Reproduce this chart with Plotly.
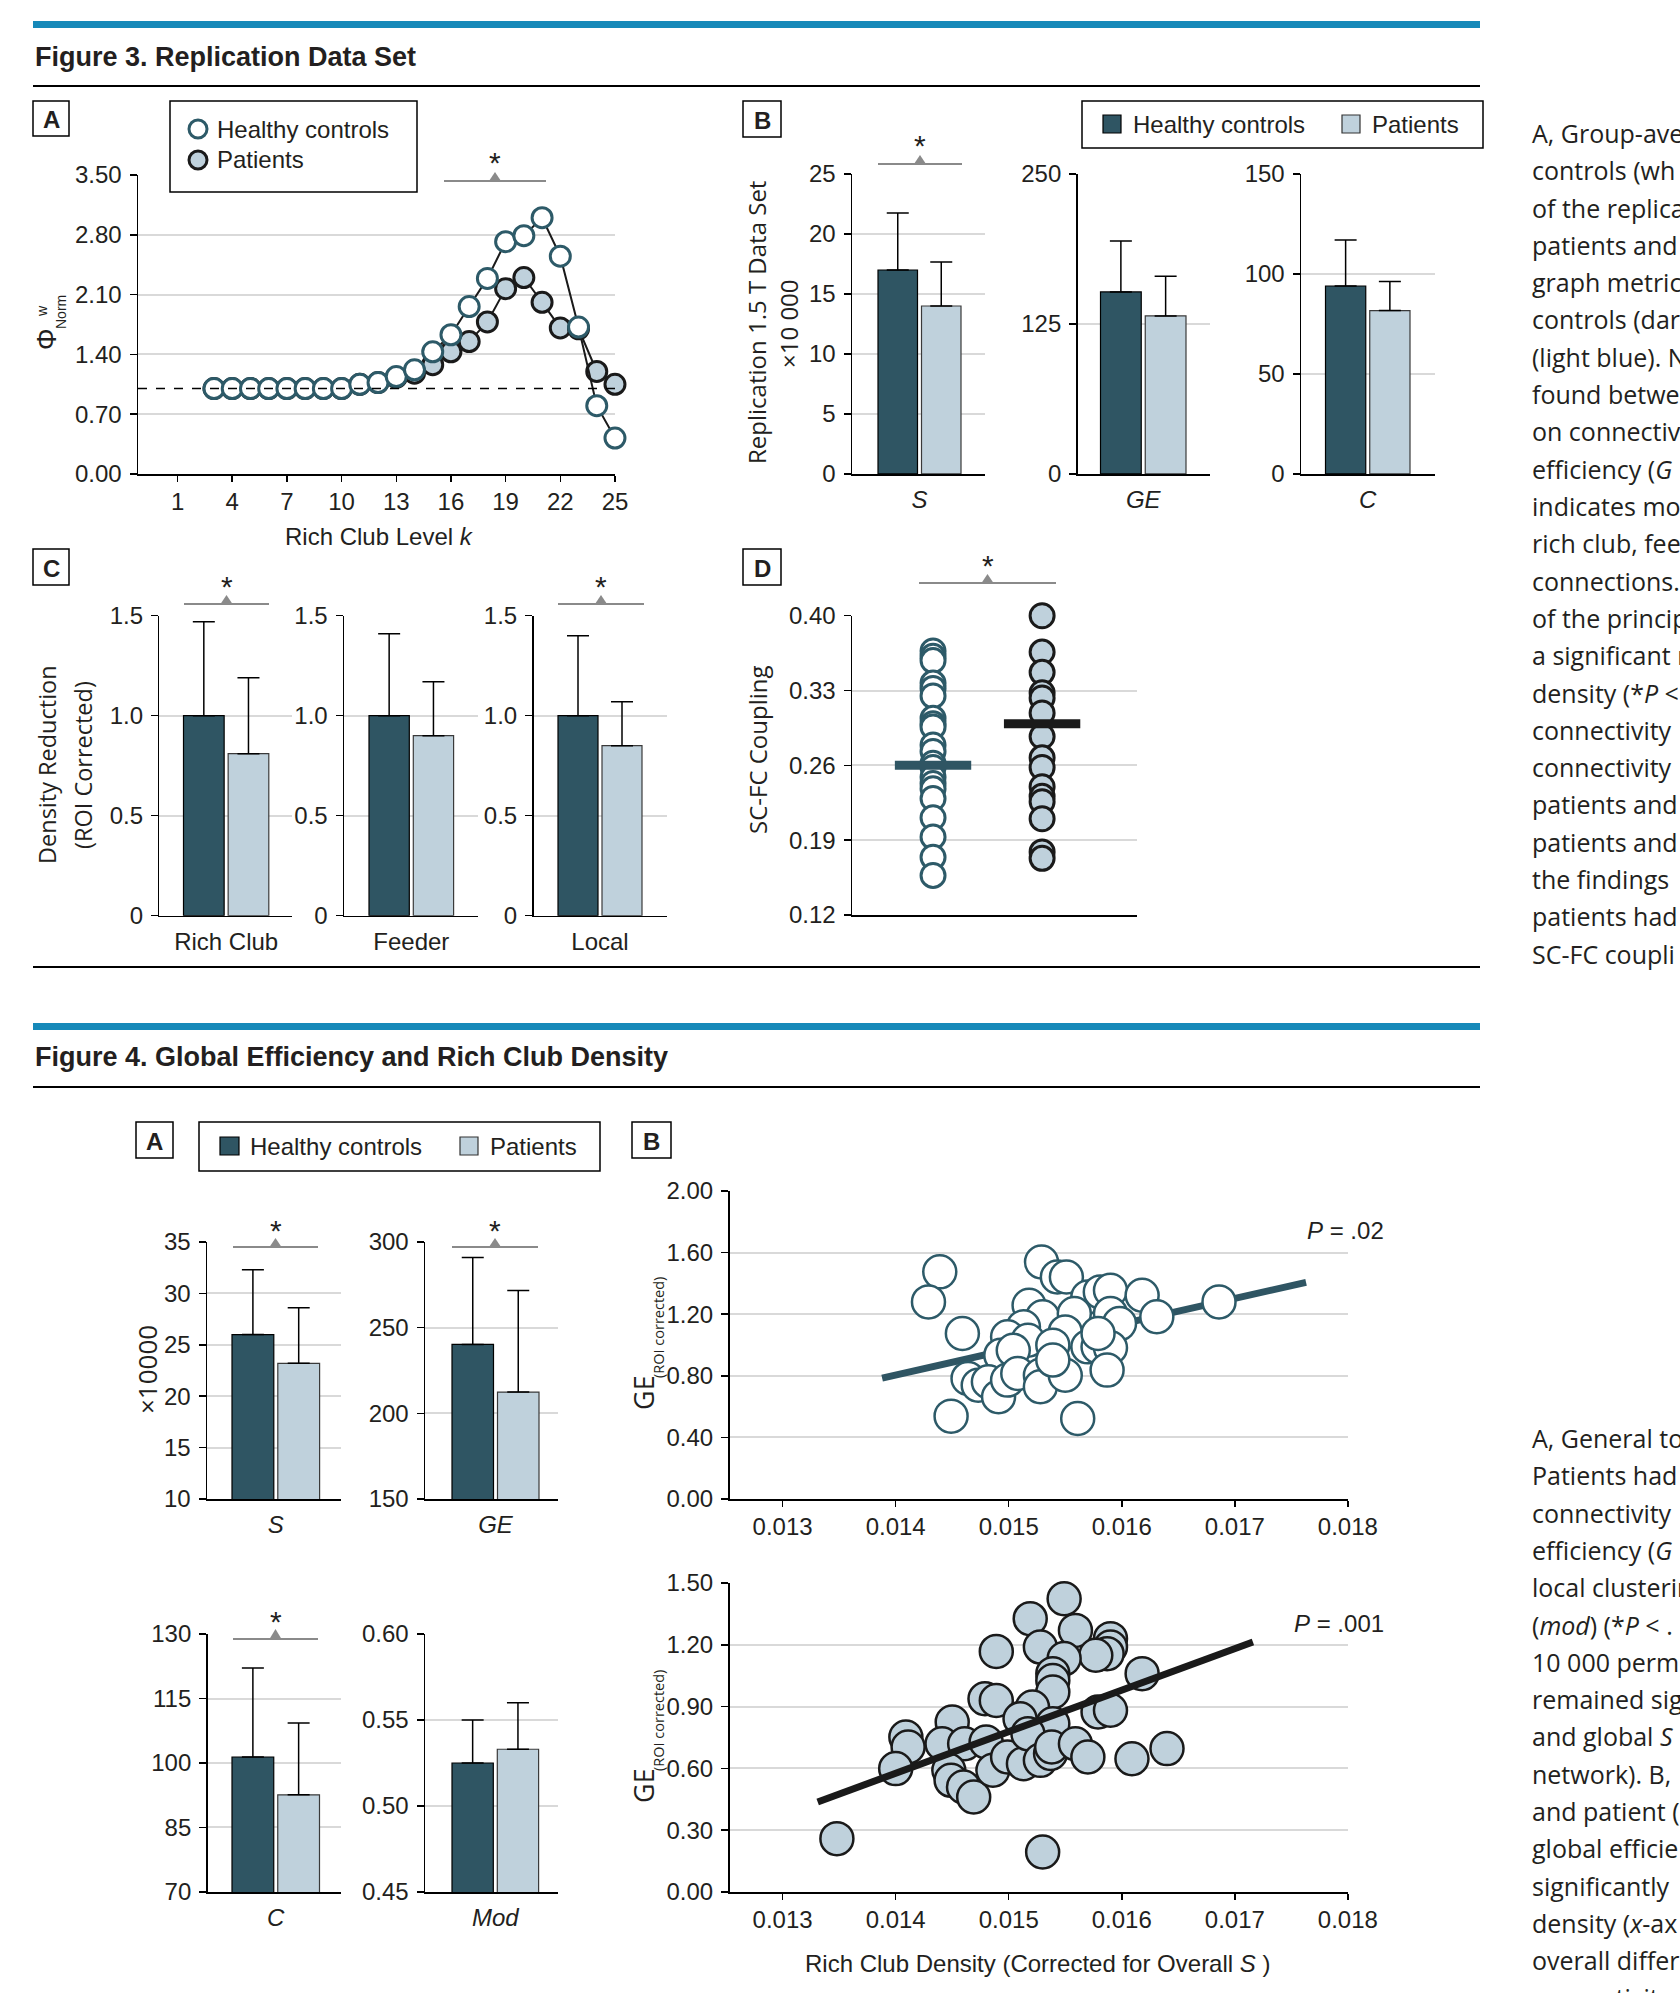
import plotly.graph_objects as go

W, H = 1680, 1993

# ---------------- data ----------------
k_levels = list(range(3, 26))
phi_controls = [1.00, 1.00, 1.00, 1.00, 1.00, 1.00, 1.00, 1.00, 1.05, 1.07, 1.14, 1.22,
                1.43, 1.63, 1.96, 2.29, 2.72, 2.79, 3.00, 2.55, 1.72, 0.80, 0.42]
phi_patients = [1.00, 1.00, 1.00, 1.00, 1.00, 1.00, 1.00, 1.00, 1.05, 1.07, 1.13, 1.18,
                1.28, 1.43, 1.55, 1.78, 2.17, 2.30, 2.01, 1.71, 1.70, 1.20, 1.05]
k_ticks = [1, 4, 7, 10, 13, 16, 19, 22, 25]
phi_ticks = [0.00, 0.70, 1.40, 2.10, 2.80, 3.50]
phi_reference = 1.0

rep_metrics = ["S", "GE", "C"]
rep_controls = [17.0, 151.7, 94.0]
rep_controls_err = [4.75, 42.5, 23.0]
rep_patients = [14.0, 131.7, 81.7]
rep_patients_err = [3.67, 33.0, 14.6]
rep_ticks = [[0, 5, 10, 15, 20, 25], [0, 125, 250], [0, 50, 100, 150]]

density_classes = ["Rich Club", "Feeder", "Local"]
density_controls = [1.00, 1.00, 1.00]
density_controls_err = [0.47, 0.41, 0.40]
density_patients = [0.81, 0.90, 0.85]
density_patients_err = [0.38, 0.27, 0.22]
density_ticks = [0, 0.5, 1.0, 1.5]
density_ticklabels = ["0", "0.5", "1.0", "1.5"]

sc_fc_controls = [0.367, 0.362, 0.358, 0.337, 0.332, 0.325, 0.304, 0.299, 0.296, 0.279,
                  0.273, 0.262, 0.258, 0.249, 0.243, 0.238, 0.229, 0.211, 0.193, 0.174, 0.157]
sc_fc_patients = [0.400, 0.366, 0.347, 0.328, 0.323, 0.309, 0.287, 0.267, 0.258, 0.240,
                  0.231, 0.226, 0.210, 0.179, 0.173]
sc_fc_means = [0.260, 0.299]
sc_fc_ticks = [0.12, 0.19, 0.26, 0.33, 0.40]

f4_metrics = ["S", "GE", "C", "Mod"]
f4_controls = [26.0, 240.2, 101.4, 0.525]
f4_controls_err = [6.3, 50.8, 20.7, 0.025]
f4_patients = [23.2, 212.4, 92.6, 0.533]
f4_patients_err = [5.4, 59.3, 16.7, 0.027]
f4_ticks = [[10, 15, 20, 25, 30, 35], [150, 200, 250, 300], [70, 85, 100, 115, 130],
            [0.45, 0.50, 0.55, 0.60]]

rc_density_controls = [0.01439, 0.01429, 0.01459, 0.01449, 0.01529, 0.01543, 0.01551, 0.01570,
                       0.01581, 0.01590, 0.01618, 0.01631, 0.01686, 0.01518, 0.01530, 0.01558,
                       0.01590, 0.01598, 0.01513, 0.01550, 0.01499, 0.01517, 0.01539, 0.01570,
                       0.01579, 0.01590, 0.01493, 0.01504, 0.01464, 0.01473, 0.01482, 0.01491,
                       0.01499, 0.01508, 0.01528, 0.01528, 0.01550, 0.01561, 0.01587, 0.01539,
                       0.01579]
ge_controls = [1.475, 1.280, 1.075, 0.538, 1.539, 1.442, 1.442, 1.312, 1.345, 1.356, 1.323,
               1.183, 1.280, 1.258, 1.183, 1.204, 1.204, 1.139, 1.118, 1.085, 1.053, 1.031,
               0.999, 0.988, 0.988, 0.982, 0.934, 0.966, 0.783, 0.739, 0.761, 0.664, 0.772,
               0.815, 0.804, 0.729, 0.804, 0.523, 0.837, 0.902, 1.075]
fit_controls_x = [0.01388, 0.01763]
fit_controls_y = [0.785, 1.407]

rc_density_patients = [0.01348, 0.01530, 0.01549, 0.01519, 0.01559, 0.01590, 0.01590, 0.01587,
                       0.01577, 0.01528, 0.01489, 0.01549, 0.01539, 0.01539, 0.01539, 0.01618,
                       0.01479, 0.01489, 0.01521, 0.01510, 0.01539, 0.01579, 0.01590, 0.01409,
                       0.01411, 0.01400, 0.01450, 0.01441, 0.01461, 0.01480, 0.01447, 0.01449,
                       0.01460, 0.01469, 0.01486, 0.01499, 0.01513, 0.01517, 0.01528, 0.01537,
                       0.01538, 0.01559, 0.01570, 0.01609, 0.01640]
ge_patients = [0.259, 0.194, 1.424, 1.327, 1.270, 1.230, 1.189, 1.157, 1.149, 1.189, 1.168,
               1.133, 1.060, 1.027, 0.971, 1.060, 0.938, 0.930, 0.898, 0.841, 0.817, 0.874,
               0.882, 0.752, 0.704, 0.599, 0.825, 0.720, 0.720, 0.728, 0.591, 0.542, 0.510,
               0.461, 0.591, 0.655, 0.623, 0.768, 0.639, 0.672, 0.704, 0.720, 0.655, 0.647,
               0.696]
fit_patients_x = [0.01331, 0.01716]
fit_patients_y = [0.437, 1.214]
rc_ticks = [0.013, 0.014, 0.015, 0.016, 0.017, 0.018]
ge_ticks_top = [0.0, 0.4, 0.8, 1.2, 1.6, 2.0]
ge_ticks_bottom = [0.0, 0.3, 0.6, 0.9, 1.2, 1.5]

caption3 = ["A, Group-ave", "controls (wh", "of the replica", "patients and", "graph metric",
            "controls (dar", "(light blue). N", "found betwe", "on connectiv",
            "efficiency (<i>G</i>", "indicates mo", "rich club, fee", "connections.",
            "of the princip", "a significant r", "density (*<i>P</i> <", "connectivity",
            "connectivity", "patients and", "patients and", "the findings", "patients had",
            "SC-FC coupli"]
caption4 = ["A, General to", "Patients had", "connectivity", "efficiency (<i>G</i>",
            "local clusterin", "(<i>mod</i>) (*<i>P</i> < .", "10 000 perm", "remained sig",
            "and global <i>S</i>", "network). B,", "and patient (", "global efficie",
            "significantly", "density (<i>x</i>-ax", "overall differ", "connectivity"]

# ---------------- style ----------------
DARK = "#2f5563"
LIGHT = "#bfd1dc"
TEAL = "#2d5a68"
GRID = "#d9d9d9"
TXT = "#231f20"
BLUE = "#1689b9"
SIG = "#8a8a8a"
FONT = "Liberation Sans, Arial, sans-serif"
HFONT = "Open Sans, Liberation Sans, sans-serif"

fig = go.Figure()
axes = {}
shapes = []
annos = []


def X(p):
    return p / W


def Y(p):
    return 1 - p / H


def tfont(size=24):
    return dict(family=FONT, size=size, color=TXT)


def text(x, y, s, size=23, family=FONT, xanchor="center", yanchor="middle", angle=0, color=TXT):
    annos.append(dict(x=X(x), y=Y(y), xref="paper", yref="paper", text=s, showarrow=False,
                      xanchor=xanchor, yanchor=yanchor, textangle=angle,
                      font=dict(family=family, size=size, color=color)))


def rect(x0, y0, x1, y1, fill="rgba(0,0,0,0)", edge="black", width=1.5):
    shapes.append(dict(type="rect", xref="paper", yref="paper", x0=X(x0), x1=X(x1), y0=Y(y1),
                       y1=Y(y0), fillcolor=fill, line=dict(color=edge, width=width), layer="above"))


def hline(x0, x1, y, color="black", width=2):
    shapes.append(dict(type="line", xref="paper", yref="paper", x0=X(x0), x1=X(x1), y0=Y(y), y1=Y(y),
                       line=dict(color=color, width=width), layer="above"))


def circle(cx, cy, r, fill, edge, width):
    shapes.append(dict(type="circle", xref="paper", yref="paper", x0=X(cx - r), x1=X(cx + r),
                       y0=Y(cy + r), y1=Y(cy - r), fillcolor=fill, line=dict(color=edge, width=width),
                       layer="above"))


def sig(x0, x1, yline, yapex, ystar):
    hline(x0, x1, yline, SIG, 2)
    xm = (x0 + x1) / 2
    shapes.append(dict(type="path", xref="paper", yref="paper",
                       path=f"M {X(xm - 6)} {Y(yline)} L {X(xm + 6)} {Y(yline)} L {X(xm)} {Y(yapex)} Z",
                       fillcolor=SIG, line=dict(color=SIG, width=0), layer="above"))
    text(xm, ystar + 4, "*", 30)


def label_box(x0, y0, x1, y1, letter):
    rect(x0, y0, x1, y1)
    text((x0 + x1) / 2, (y0 + y1) / 2 + 1, f"<b>{letter}</b>", 24)


def make_axes(i, x0, x1, ytop, ybot, xrange, yrange, ytickvals, yticktext,
              xtickvals=None, xticktext=None, xticks="", xstandoff=8, xfont=None):
    sfx = "" if i == 1 else str(i)
    span = yrange[1] - yrange[0]
    axes["xaxis" + sfx] = dict(
        domain=[X(x0), X(x1)], range=xrange, anchor="y" + sfx, showgrid=False, zeroline=False,
        automargin=False,
        showline=True, linecolor="black", linewidth=1.5, ticks=xticks, ticklen=6, tickwidth=1.5,
        tickcolor="black", tickmode="array", tickvals=xtickvals or [], ticktext=xticktext or [],
        showticklabels=xtickvals is not None, tickfont=xfont or tfont(), ticklabelstandoff=xstandoff,
        fixedrange=True)
    axes["yaxis" + sfx] = dict(
        domain=[Y(ybot), Y(ytop)], range=[yrange[0] - span * 1e-4, yrange[1] + span * 1e-4],
        anchor="x" + sfx, showgrid=True, gridcolor=GRID, gridwidth=2, zeroline=False, showline=True,
        automargin=False,
        linecolor="black", linewidth=1.5, ticks="outside", ticklen=7, tickwidth=1.5,
        tickcolor="black", tickmode="array", tickvals=ytickvals, ticktext=yticktext,
        tickfont=tfont(), ticklabelstandoff=3, fixedrange=True)
    return "x" + sfx, "y" + sfx


def bar_panel(i, axis_x, grid_end, ytop, ybot, yticks, ylabels, bar_left, bar_right,
              label, italic, c, ce, p, pe):
    gap = 4.0
    w = (bar_right - bar_left - gap) / 2
    unit = w + gap
    c0 = bar_left + w / 2
    xr = [-(c0 - axis_x) / unit, (grid_end - c0) / unit]
    txt = f"<i>{label}</i>" if italic else label
    xa, ya = make_axes(i, axis_x, grid_end, ytop, ybot, xr, [yticks[0], yticks[-1]], yticks, ylabels,
                       xtickvals=[0.5], xticktext=[txt], xticks="", xstandoff=4, xfont=tfont(24))
    for xpos, val, err, color, edge in ((0, c, ce, DARK, "black"), (1, p, pe, LIGHT, "#3a3a3a")):
        fig.add_trace(go.Bar(
            x=[xpos], y=[val], width=[w / unit],
            marker=dict(color=color, line=dict(color=edge, width=1.2)),
            error_y=dict(type="data", symmetric=False, array=[err], arrayminus=[0],
                         color="black", thickness=1.5, width=11),
            xaxis=xa, yaxis=ya, showlegend=False, hoverinfo="skip"))


def fmt(v, spec):
    return format(v, spec)


# ---------------- Figure 3 header ----------------
rect(33, 21, 1480, 28, fill=BLUE, edge=BLUE, width=0)
text(33, 57, "<b>Figure 3. Replication Data Set</b>", 27, xanchor="left")
hline(33, 1480, 86, "black", 2)

# ---------------- Panel A ----------------
xa, ya = make_axes(1, 138, 615, 175, 474, [-1.17, 25.001], [0, 3.5], phi_ticks,
                   [fmt(v, ".2f") for v in phi_ticks], xtickvals=k_ticks,
                   xticktext=[str(k) for k in k_ticks], xticks="outside", xstandoff=0)
shapes.append(dict(type="line", xref="x domain", yref="y", x0=0, x1=1, y0=phi_reference,
                   y1=phi_reference, line=dict(color="black", width=1.5, dash="dash")))
fig.add_trace(go.Scatter(x=k_levels, y=phi_patients, mode="lines+markers", xaxis=xa, yaxis=ya,
                         line=dict(color="#1a1a1a", width=2),
                         marker=dict(size=20, color=LIGHT, line=dict(color="#1a1a1a", width=3)),
                         cliponaxis=False, showlegend=False, hoverinfo="skip"))
fig.add_trace(go.Scatter(x=k_levels, y=phi_controls, mode="lines+markers", xaxis=xa, yaxis=ya,
                         line=dict(color="#1a1a1a", width=2),
                         marker=dict(size=20, color="white", line=dict(color=TEAL, width=3)),
                         cliponaxis=False, showlegend=False, hoverinfo="skip"))
label_box(33, 101, 69, 136, "A")
rect(170, 101, 417, 192)
circle(198, 129, 9, "white", TEAL, 3)
circle(198, 160, 9, LIGHT, "#1a1a1a", 3)
text(215, 129, "Healthy controls", 24, xanchor="left")
text(215, 160, "Patients", 24, xanchor="left")
sig(444, 546, 181, 172, 159)
text(47, 339, "Φ", 27, angle=-90)
text(42, 311, "w", 14, angle=-90)
text(61, 312, "Norm", 14, angle=-90)
text(379, 536, "Rich Club Level <i>k</i>", 24)

# ---------------- Panel B ----------------
label_box(743, 101, 781, 137, "B")
rect(1082, 101, 1483, 148)
rect(1103, 115, 1121, 133, fill=DARK, edge="black", width=1.2)
text(1131, 124, "Healthy controls", 24, xanchor="left")
rect(1342, 115, 1360, 133, fill=LIGHT, edge="#333", width=1.2)
text(1370, 124, "Patients", 24, xanchor="left")
b_geom = [(852, 985, 878, 961), (1077.6, 1210, 1100.5, 1186), (1301, 1435, 1325.5, 1410)]
for j, (axx, ge_, bl, br) in enumerate(b_geom):
    bar_panel(2 + j, axx, ge_, 174, 474, rep_ticks[j], [str(v) for v in rep_ticks[j]], bl, br,
              rep_metrics[j], True, rep_controls[j], rep_controls_err[j], rep_patients[j],
              rep_patients_err[j])
sig(878, 962, 164, 155, 142)
text(756, 323, "Replication 1.5 T Data Set", 24, HFONT, angle=-90)
text(789, 324, "×10 000", 24, HFONT, angle=-90)

# ---------------- Panel C ----------------
label_box(33, 549, 69, 585, "C")
c_geom = [(159.4, 292, 183.5, 268.8), (344, 478, 369, 453.6), (533.5, 666.5, 558, 642)]
for j, (axx, ge_, bl, br) in enumerate(c_geom):
    bar_panel(5 + j, axx, ge_, 615.7, 915.7, density_ticks, density_ticklabels, bl, br,
              density_classes[j], False, density_controls[j], density_controls_err[j],
              density_patients[j], density_patients_err[j])
sig(184, 269, 604, 595, 582)
sig(558, 644, 604, 595, 582)
text(47, 765, "Density Reduction", 23.5, HFONT, angle=-90)
text(83, 765, "(ROI Corrected)", 23.5, HFONT, angle=-90)

# ---------------- Panel D ----------------
label_box(743, 549, 781, 585, "D")
xa, ya = make_axes(8, 852, 1137, 615.7, 915, [-0.743, 1.87], [0.12, 0.40], sc_fc_ticks,
                   [fmt(v, ".2f") for v in sc_fc_ticks])
fig.add_trace(go.Scatter(x=[0] * len(sc_fc_controls), y=sc_fc_controls, mode="markers",
                         xaxis=xa, yaxis=ya, cliponaxis=False, showlegend=False, hoverinfo="skip",
                         marker=dict(size=24, color="white", line=dict(color=TEAL, width=3))))
fig.add_trace(go.Scatter(x=[1] * len(sc_fc_patients), y=sc_fc_patients, mode="markers",
                         xaxis=xa, yaxis=ya, cliponaxis=False, showlegend=False, hoverinfo="skip",
                         marker=dict(size=24, color=LIGHT, line=dict(color="#1a1a1a", width=3))))
for j, col in enumerate([DARK, "#1a1a1a"]):
    fig.add_trace(go.Scatter(x=[j - 0.35, j + 0.35], y=[sc_fc_means[j]] * 2, mode="lines",
                             xaxis=xa, yaxis=ya, line=dict(color=col, width=9),
                             showlegend=False, hoverinfo="skip"))
sig(919, 1056, 583, 574, 562)
text(757, 750, "SC-FC Coupling", 24, HFONT, angle=-90)
hline(33, 1480, 967, "black", 2)

# ---------------- Figure 4 header ----------------
rect(33, 1023, 1480, 1030, fill=BLUE, edge=BLUE, width=0)
text(33, 1057, "<b>Figure 4. Global Efficiency and Rich Club Density</b>", 27, xanchor="left")
hline(33, 1480, 1087, "black", 2)

# ---------------- Figure 4 A ----------------
label_box(136, 1122, 173, 1158, "A")
rect(199, 1122, 600, 1171)
rect(220, 1137, 239, 1155, fill=DARK, edge="black", width=1.2)
text(248, 1146, "Healthy controls", 24, xanchor="left")
rect(460, 1137, 478, 1155, fill=LIGHT, edge="#333", width=1.2)
text(488, 1146, "Patients", 24, xanchor="left")
f4_geom = [(207, 341, 1242, 1499, 232, 319.6), (425, 558, 1242, 1499, 452, 539),
           (207.6, 341, 1634, 1892, 232, 319.5), (425, 558, 1634, 1892, 452, 538.6)]
for j, (axx, ge_, yt, yb, bl, br) in enumerate(f4_geom):
    labels = [fmt(v, ".2f") if j == 3 else str(v) for v in f4_ticks[j]]
    bar_panel(9 + j, axx, ge_, yt, yb, f4_ticks[j], labels, bl, br, f4_metrics[j], True,
              f4_controls[j], f4_controls_err[j], f4_patients[j], f4_patients_err[j])
sig(233, 318, 1247, 1238, 1226)
sig(452, 538, 1247, 1238, 1226)
sig(233, 318, 1639, 1629, 1617)
text(147, 1370, "×10000", 26, HFONT, angle=-90)

# ---------------- Figure 4 B ----------------
label_box(632, 1122, 671, 1158, "B")
rc_labels = [fmt(v, ".3f") for v in rc_ticks]
xa, ya = make_axes(13, 729.5, 1348, 1191, 1499, [0.01253, 0.018001], [0, 2.0], ge_ticks_top,
                   [fmt(v, ".2f") for v in ge_ticks_top], xtickvals=rc_ticks, xticktext=rc_labels,
                   xticks="outside", xstandoff=0)
fig.add_trace(go.Scatter(x=fit_controls_x, y=fit_controls_y, mode="lines", xaxis=xa, yaxis=ya,
                         line=dict(color=DARK, width=7), showlegend=False, hoverinfo="skip"))
fig.add_trace(go.Scatter(x=rc_density_controls, y=ge_controls, mode="markers", xaxis=xa, yaxis=ya,
                         marker=dict(size=33, color="white", line=dict(color=TEAL, width=2.5)),
                         cliponaxis=False, showlegend=False, hoverinfo="skip"))
xb, yb = make_axes(14, 729.5, 1348, 1583, 1892, [0.01253, 0.018001], [0, 1.5], ge_ticks_bottom,
                   [fmt(v, ".2f") for v in ge_ticks_bottom], xtickvals=rc_ticks, xticktext=rc_labels,
                   xticks="outside", xstandoff=0)
fig.add_trace(go.Scatter(x=rc_density_patients, y=ge_patients, mode="markers", xaxis=xb, yaxis=yb,
                         marker=dict(size=33, color=LIGHT, line=dict(color="#1a1a1a", width=2.5)),
                         cliponaxis=False, showlegend=False, hoverinfo="skip"))
fig.add_trace(go.Scatter(x=fit_patients_x, y=fit_patients_y, mode="lines", xaxis=xb, yaxis=yb,
                         line=dict(color="#1a1a1a", width=7), showlegend=False, hoverinfo="skip"))
text(1386, 1230, "<i>P</i> = .02", 24, xanchor="right")
text(1386, 1623, "<i>P</i> = .001", 24, xanchor="right")
text(643, 1393, "GE", 27, HFONT, angle=-90)
text(658, 1328, "(ROI corrected)", 14.5, HFONT, angle=-90)
text(643, 1786, "GE", 27, HFONT, angle=-90)
text(658, 1721, "(ROI corrected)", 14.5, HFONT, angle=-90)
text(1038, 1963, "Rich Club Density (Corrected for Overall <i>S</i> )", 24)

# ---------------- captions ----------------
for n, line in enumerate(caption3):
    text(1530, 133 + n * 37.3, line, 25, HFONT, xanchor="left")
for n, line in enumerate(caption4):
    text(1530, 1438 + n * 37.3, line, 25, HFONT, xanchor="left")

fig.update_layout(
    template="none",
    width=W, height=H, autosize=False, margin=dict(l=0, r=0, t=0, b=0, pad=0, autoexpand=False),
    paper_bgcolor="white", plot_bgcolor="white", barmode="overlay", showlegend=False,
    shapes=shapes, annotations=annos, font=dict(family=FONT, color=TXT), **axes)

fig.write_html("out.html", config={"displayModeBar": False, "staticPlot": True},
               post_script="document.body.style.margin='0';document.body.style.overflow='hidden';")
